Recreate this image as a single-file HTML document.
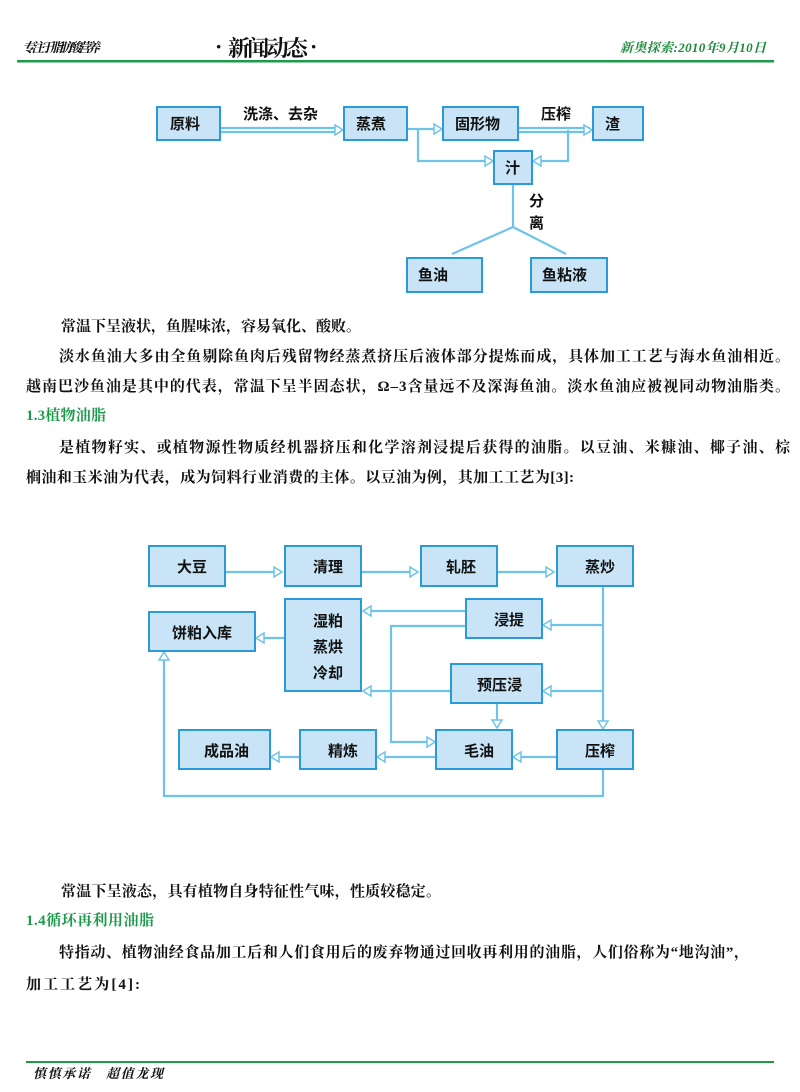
<!DOCTYPE html>
<html><head><meta charset="utf-8"><style>
html,body{margin:0;padding:0;background:#fff;}
svg{display:block;}
text{font-family:"Liberation Serif","Noto Serif CJK SC","Noto Sans CJK SC",serif;}
.b{fill:#c8e4f6;stroke:#2a9ad8;stroke-width:2;}
.l{font-family:"Liberation Sans","Noto Sans CJK SC",sans-serif;font-weight:bold;font-size:15px;fill:#111;}
.c{stroke:#6fc3e8;stroke-width:2.2;fill:none;}
.a{fill:#fff;stroke:#6fc3e8;stroke-width:1.5;}
.t{font-size:15px;font-weight:bold;fill:#111;}
.g{font-size:15px;font-weight:bold;fill:#1b9a4a;}
</style></head><body>
<svg width="800" height="1092" viewBox="0 0 800 1092">
<!-- header -->
<text x="22" y="52" font-size="13" font-style="italic" font-weight="bold" fill="#111" textLength="78">专注于脂肪酸营养</text>
<text x="215" y="54" font-size="22" font-weight="bold" fill="#111" font-family="Liberation Sans,Noto Sans CJK SC,sans-serif">·</text>
<text x="228" y="56" font-size="22" font-weight="bold" fill="#111" font-family="Liberation Sans,Noto Sans CJK SC,sans-serif" textLength="80">新闻动态</text>
<text x="310" y="54" font-size="22" font-weight="bold" fill="#111" font-family="Liberation Sans,Noto Sans CJK SC,sans-serif">·</text>
<text x="620" y="52" font-size="13" font-style="italic" font-weight="bold" fill="#1b8a3a" textLength="146">新奥探索:2010年9月10日</text>
<rect x="17" y="60" width="757" height="2.5" fill="#1e9a48"/>

<!-- diagram 1 -->
<g>
<path class="c" d="M220 128H340 M220 132H340"/>
<path class="c" d="M407 129H440 M418 129V161H490"/>
<path class="c" d="M518 128H590 M518 132H590 M568 130V161H536"/>
<path class="c" d="M513 184V227 M513 227L452 254 M513 227L566 254"/>
<polygon class="a" points="335,125 343,130 335,135"/>
<polygon class="a" points="434,124 442,129 434,134"/>
<polygon class="a" points="584,125 592,130 584,135"/>
<polygon class="a" points="485,156 493,161 485,166"/>
<polygon class="a" points="541,156 533,161 541,166"/>
<rect class="b" x="157" y="107" width="63" height="33"/><text class="l" x="170" y="129">原料</text>
<rect class="b" x="344" y="107" width="63" height="33"/><text class="l" x="356" y="129">蒸煮</text>
<rect class="b" x="443" y="107" width="75" height="33"/><text class="l" x="455" y="129">固形物</text>
<rect class="b" x="593" y="107" width="50" height="33"/><text class="l" x="605" y="129">渣</text>
<rect class="b" x="494" y="151" width="38" height="33"/><text class="l" x="505" y="173">汁</text>
<rect class="b" x="407" y="258" width="75" height="34"/><text class="l" x="418" y="280">鱼油</text>
<rect class="b" x="531" y="258" width="76" height="34"/><text class="l" x="542" y="280">鱼粘液</text>
<text class="l" x="243" y="119">洗涤、去杂</text>
<text class="l" x="541" y="119">压榨</text>
<text class="l" x="529" y="206">分</text>
<text class="l" x="529" y="228">离</text>
</g>

<!-- body text 1 -->
<text class="t" x="61" y="331" textLength="300">常温下呈液状，鱼腥味浓，容易氧化、酸败。</text>
<text class="t" x="59" y="361" textLength="731">淡水鱼油大多由全鱼剔除鱼肉后残留物经蒸煮挤压后液体部分提炼而成，具体加工工艺与海水鱼油相近。</text>
<text class="t" x="26" y="391" textLength="764">越南巴沙鱼油是其中的代表，常温下呈半固态状，Ω–3含量远不及深海鱼油。淡水鱼油应被视同动物油脂类。</text>
<text class="g" x="26" y="420" textLength="80">1.3植物油脂</text>
<text class="t" x="59" y="452" textLength="731">是植物籽实、或植物源性物质经机器挤压和化学溶剂浸提后获得的油脂。以豆油、米糠油、椰子油、棕</text>
<text class="t" x="26" y="482" textLength="548">榈油和玉米油为代表，成为饲料行业消费的主体。以豆油为例，其加工工艺为[3]:</text>

<!-- diagram 2 -->
<g>
<path class="c" d="M225 572H280 M361 572H416 M497 572H552"/>
<path class="c" d="M603 586V725 M603 625H546 M603 691H546"/>
<path class="c" d="M466 611H365 M466 626H391V742H432 M451 691H365 M497 703V726"/>
<path class="c" d="M557 757H516 M436 757H380 M300 757H274 M285 638H259"/>
<path class="c" d="M603 769V796H164V655"/>
<polygon class="a" points="274,567 282,572 274,577"/>
<polygon class="a" points="410,567 418,572 410,577"/>
<polygon class="a" points="546,567 554,572 546,577"/>
<polygon class="a" points="598,721 603,729 608,721"/>
<polygon class="a" points="551,620 543,625 551,630"/>
<polygon class="a" points="551,686 543,691 551,696"/>
<polygon class="a" points="371,606 363,611 371,616"/>
<polygon class="a" points="371,686 363,691 371,696"/>
<polygon class="a" points="427,737 435,742 427,747"/>
<polygon class="a" points="492,720 497,728 502,720"/>
<polygon class="a" points="521,752 513,757 521,762"/>
<polygon class="a" points="385,752 377,757 385,762"/>
<polygon class="a" points="279,752 271,757 279,762"/>
<polygon class="a" points="264,633 256,638 264,643"/>
<polygon class="a" points="159,660 164,652 169,660"/>
<rect class="b" x="149" y="546" width="76" height="40"/><text class="l" x="177" y="572">大豆</text>
<rect class="b" x="285" y="546" width="76" height="40"/><text class="l" x="313" y="572">清理</text>
<rect class="b" x="421" y="546" width="76" height="40"/><text class="l" x="446" y="572">轧胚</text>
<rect class="b" x="557" y="546" width="76" height="40"/><text class="l" x="585" y="572">蒸炒</text>
<rect class="b" x="149" y="612" width="106" height="39"/><text class="l" x="172" y="638">饼粕入库</text>
<rect class="b" x="285" y="599" width="76" height="92"/>
<text class="l" x="313" y="626">湿粕</text><text class="l" x="313" y="652">蒸烘</text><text class="l" x="313" y="678">冷却</text>
<rect class="b" x="466" y="599" width="76" height="39"/><text class="l" x="494" y="625">浸提</text>
<rect class="b" x="451" y="664" width="91" height="39"/><text class="l" x="477" y="690">预压浸</text>
<rect class="b" x="179" y="730" width="91" height="39"/><text class="l" x="204" y="756">成品油</text>
<rect class="b" x="300" y="730" width="76" height="39"/><text class="l" x="328" y="756">精炼</text>
<rect class="b" x="436" y="730" width="76" height="39"/><text class="l" x="464" y="756">毛油</text>
<rect class="b" x="557" y="730" width="76" height="39"/><text class="l" x="585" y="756">压榨</text>
</g>

<!-- body text 2 -->
<text class="t" x="61" y="896" textLength="380">常温下呈液态，具有植物自身特征性气味，性质较稳定。</text>
<text class="g" x="26" y="925" textLength="128">1.4循环再利用油脂</text>
<text class="t" x="59" y="957" textLength="690">特指动、植物油经食品加工后和人们食用后的废弃物通过回收再利用的油脂，人们俗称为“地沟油”，</text>
<text class="t" x="26" y="989" textLength="114">加工工艺为[4]:</text>

<!-- footer -->
<rect x="26" y="1061" width="748" height="2" fill="#1e9a48"/>
<text x="33" y="1078" font-size="13" font-style="italic" font-weight="bold" fill="#111" textLength="130">慎慎承诺　超值龙现</text>
</svg>
</body></html>
